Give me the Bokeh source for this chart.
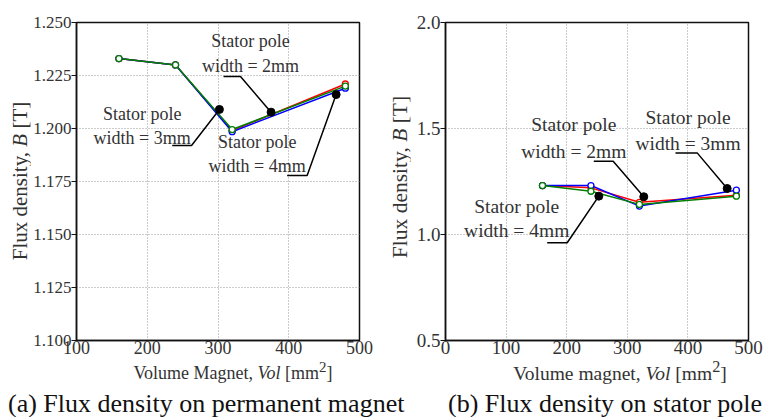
from bokeh.plotting import figure
from bokeh.models import FixedTicker, NumeralTickFormatter, Div
from bokeh.layouts import row, column
from bokeh.embed import file_html
from bokeh.resources import INLINE
from bokeh.core.properties import value

# ---------------- data ----------------
vol = [160, 240, 320, 480]

# (a) flux density on permanent magnet
pm_red = [1.233, 1.230, 1.199, 1.221]
pm_green = [1.233, 1.230, 1.1995, 1.220]
pm_blue = [1.233, 1.230, 1.1985, 1.219]

# (b) flux density on stator pole
sp_red = [1.231, 1.220, 1.152, 1.185]
sp_green = [1.231, 1.204, 1.142, 1.181]
sp_blue = [1.231, 1.231, 1.134, 1.209]

a_xticks = [100, 200, 300, 400, 500]
a_yticks = [1.100, 1.125, 1.150, 1.175, 1.200, 1.225, 1.250]
b_xticks = [0, 100, 200, 300, 400, 500]
b_yticks = [0.5, 1.0, 1.5, 2.0]

a_xlabel = "Volume Magnet, <i>Vol</i> [mm<sup>2</sup>]"
b_xlabel = "Volume magnet, <i>Vol</i> [mm<sup>2</sup>]"
ylabel = "Flux density, <i>B</i> [T]"
a_caption = "(a) Flux density on permanent magnet"
b_caption = "(b) Flux density on stator pole"

# annotations (a)
a_line1 = ["Stator pole", "Stator pole", "Stator pole"]
a_line2 = ["width = 3mm", "width = 2mm", "width = 4mm"]
a_tx = [192.8, 346.0, 355.4]
a_ty1 = [1.207, 1.2415, 1.1935]
a_ty2 = [1.1953, 1.2297, 1.1825]
a_dot_x = [302, 375, 467]
a_dot_y = [1.209, 1.2077, 1.216]
a_lead_x = [[302, 262.6, 235.3], [375, 331.8, 307.8], [467, 426.0, 397.7]]
a_lead_y = [[1.209, 1.192, 1.192], [1.2077, 1.2245, 1.2245], [1.216, 1.1778, 1.1778]]

# annotations (b)
b_line1 = ["Stator pole", "Stator pole", "Stator pole"]
b_line2 = ["width = 4mm", "width = 2mm", "width = 3mm"]
b_tx = [117.5, 211.7, 400.2]
b_ty1 = [1.133, 1.519, 1.550]
b_ty2 = [1.020, 1.393, 1.429]
b_dot_x = [253, 327.2, 464.8]
b_dot_y = [1.181, 1.178, 1.217]
b_lead_x = [[253, 200.8, 167.8], [327.2, 276.7, 244.7], [464.8, 415.3, 379.5]]
b_lead_y = [[1.181, 0.961, 0.961], [1.178, 1.346, 1.346], [1.217, 1.385, 1.385]]

SERIF = "'Liberation Serif', 'Times New Roman', serif"
TXT = "#333333"
H = 362


def make_panel(xr, yr, xticks, yticks, yfmt, W, bl, br, ytick_fs, xtick_fs):
    p = figure(width=W, height=H, x_range=xr, y_range=yr,
               output_backend="svg", toolbar_location=None,
               min_border_left=bl, min_border_right=br,
               min_border_top=22, min_border_bottom=H - 340)
    p.background_fill_color = "white"
    p.border_fill_color = "white"
    p.outline_line_color = "#111111"
    p.outline_line_width = 1.5
    p.xaxis.ticker = FixedTicker(ticks=xticks)
    p.yaxis.ticker = FixedTicker(ticks=yticks)
    p.yaxis.formatter = NumeralTickFormatter(format=yfmt)
    for ax in (p.xaxis, p.yaxis):
        ax.axis_line_color = "#111111"
        ax.axis_line_width = 1.5
        ax.minor_tick_line_color = None
        ax.major_label_text_font = SERIF
        ax.major_label_text_color = TXT
        ax.major_tick_line_color = "#111111"
    p.xaxis.major_tick_out = 0
    p.xaxis.major_tick_in = 0
    p.xaxis.major_label_standoff = 0
    p.yaxis.major_tick_out = 5
    p.yaxis.major_tick_in = 0
    p.yaxis.major_label_standoff = 0
    p.yaxis.major_label_text_font_size = ytick_fs
    p.xaxis.major_label_text_font_size = xtick_fs
    p.grid.grid_line_color = "#999999"
    p.grid.grid_line_dash = "1 2"
    p.grid.grid_line_width = 1
    return p


def add_series(p, ys_list):
    for ys, col in ys_list:
        p.line(vol, ys, line_color=col, line_width=1.5)
    for ys, col in ys_list:
        p.scatter(vol, ys, marker="circle", size=6, fill_color="white",
                  line_color=col, line_width=1.3)


def add_annots(p, l1, l2, tx, ty1, ty2, dx, dy, lx, ly, fs):
    p.multi_line(lx, ly, line_color="black", line_width=1.5)
    p.scatter(dx, dy, marker="circle", size=8, fill_color="black", line_color="black")
    p.text(tx, ty1, text=l1, text_font=value(SERIF), text_font_size=fs,
           text_align="center", text_baseline="middle", text_color=TXT)
    p.text(tx, ty2, text=l2, text_font=value(SERIF), text_font_size=fs,
           text_align="center", text_baseline="middle", text_color=TXT)


def ylabel_div(text, cy, fs):
    html = (f'<div style="position:relative;width:30px;height:{H}px;">'
            f'<span style="position:absolute;left:20px;top:{cy}px;'
            f'transform:translate(-50%,-50%) rotate(-90deg);white-space:nowrap;'
            f'font-family:\'Liberation Serif\';font-size:{fs}px;color:{TXT};">{text}</span></div>')
    return Div(text=html, width=30, height=H, margin=(0, 0, 0, 0))


# ---- left panel ----
pa = make_panel((100, 500), (1.100, 1.250), a_xticks, a_yticks, "0.000",
                350, 46, 21, "17px", "18px")
add_series(pa, [(pm_red, "#ff0000"), (pm_blue, "#0000ff"), (pm_green, "#008000")])
add_annots(pa, a_line1, a_line2, a_tx, a_ty1, a_ty2, a_dot_x, a_dot_y, a_lead_x, a_lead_y, "18px")

# ---- right panel ----
pb = make_panel((0, 500), (0.5, 2.0), b_xticks, b_yticks, "0.0",
                361, 35, 23, "19px", "19px")
add_series(pb, [(sp_red, "#ff0000"), (sp_blue, "#0000ff"), (sp_green, "#008000")])
add_annots(pb, b_line1, b_line2, b_tx, b_ty1, b_ty2, b_dot_x, b_dot_y, b_lead_x, b_lead_y, "19.5px")

ya = ylabel_div(ylabel, 181, 21)
yb = ylabel_div(ylabel, 177, 21.5)

bottom = Div(text=(
    f'<div style="position:relative;width:771px;height:55px;'
    f'font-family:\'Liberation Serif\';white-space:nowrap;">'
    f'<span style="position:absolute;left:233px;top:10px;transform:translate(-50%,-50%);'
    f'font-size:18px;color:{TXT};">{a_xlabel}</span>'
    f'<span style="position:absolute;left:620px;top:10px;transform:translate(-50%,-50%);'
    f'font-size:19.5px;color:{TXT};">{b_xlabel}</span>'
    f'<span style="position:absolute;left:8px;top:42px;transform:translate(0,-50%);'
    f'font-size:26px;color:#111;">{a_caption}</span>'
    f'<span style="position:absolute;left:448px;top:42px;transform:translate(0,-50%);'
    f'font-size:26px;color:#111;">{b_caption}</span>'
    f'</div>'), width=771, height=55, margin=(0, 0, 0, 0))

layout = column(row(ya, pa, yb, pb, spacing=0), bottom, spacing=0)

open("out.html", "w").write(file_html(layout, INLINE))
